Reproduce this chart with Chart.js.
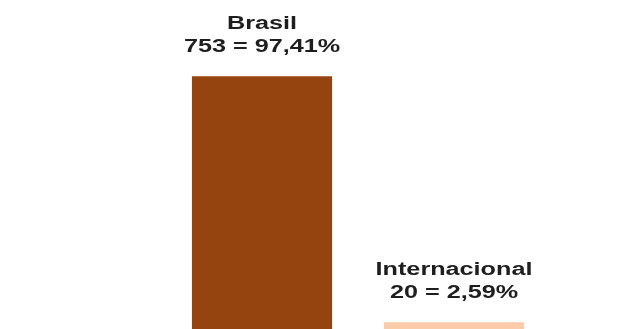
<!DOCTYPE html>
<html>
<head>
<meta charset="utf-8">
<script src="https://cdn.jsdelivr.net/npm/chart.js@4/dist/chart.umd.min.js"></script>
<style>
  html, body { margin: 0; padding: 0; background: #ffffff; }
  #wrap { width: 621px; height: 329px; }
</style>
</head>
<body>
<div id="wrap"><canvas id="origemChart"></canvas></div>
<script>
// data
const categories = ['Brasil', 'Internacional'];
const counts = [753, 20];
const percents = ['97,41%', '2,59%'];
const barColors = ['#96440f', '#f9cba9'];

// labels above each bar, drawn a bit wider like in the original picture
const barLabels = {
    id: 'barLabels',
    afterDatasetsDraw(chart) {
        const ctx = chart.ctx;
        const meta = chart.getDatasetMeta(0);
        ctx.save();
        ctx.fillStyle = '#1e1e1e';
        ctx.font = 'bold 18px "Liberation Sans", Arial, sans-serif';
        ctx.textAlign = 'center';
        ctx.textBaseline = 'middle';
        meta.data.forEach(function(bar, i) {
            const lines = [categories[i], counts[i] + ' = ' + percents[i]];
            lines.forEach(function(txt, j) {
                ctx.save();
                ctx.translate(bar.x, bar.y - 29 - (lines.length - 1 - j) * 23);
                ctx.scale(1.4, 1);
                ctx.fillText(txt, 0, 0);
                ctx.restore();
            });
        });
        ctx.restore();
    }
};

const ctx = document.getElementById('origemChart').getContext('2d');
new Chart(ctx, {
    type: 'bar',
    data: {
        labels: categories,
        datasets: [{
            data: counts,
            backgroundColor: barColors,
            borderWidth: 0,
            categoryPercentage: 1,
            barPercentage: 0.73
        }]
    },
    options: {
        responsive: true,
        maintainAspectRatio: false,
        animation: false,
        layout: {
            padding: { left: 166, right: 71, top: 0, bottom: 0 }
        },
        plugins: {
            legend: { display: false },
            tooltip: { enabled: false }
        },
        scales: {
            x: { display: false },
            y: { display: false, min: 0, max: 980 }
        }
    },
    plugins: [barLabels]
});
</script>
</body>
</html>
